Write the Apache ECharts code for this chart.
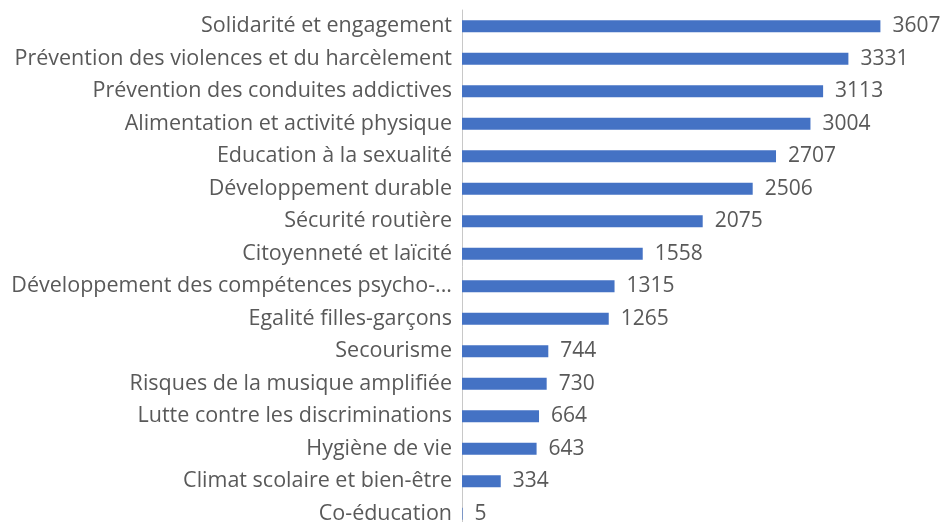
<!DOCTYPE html>
<html>
<head>
<meta charset="utf-8">
<script src="https://cdn.jsdelivr.net/npm/echarts@6/dist/echarts.min.js"></script>
<style>
    html, body { margin: 0; padding: 0; background: #fff; }
    #chart { width: 945px; height: 522px; }
</style>
</head>
<body>
<div id="chart"></div>
<script>
    // catégories, de bas en haut
    const categories = [
        'Co-éducation',
        'Climat scolaire et bien-être',
        'Hygiène de vie',
        'Lutte contre les discriminations',
        'Risques de la musique amplifiée',
        'Secourisme',
        'Egalité filles-garçons',
        'Développement des compétences psycho-...',
        'Citoyenneté et laïcité',
        'Sécurité routière',
        'Développement durable',
        'Education à la sexualité',
        'Alimentation et activité physique',
        'Prévention des conduites addictives',
        'Prévention des violences et du harcèlement',
        'Solidarité et engagement'
    ];
    const values = [5, 334, 643, 664, 730, 744, 1265, 1315, 1558, 2075, 2506, 2707, 3004, 3113, 3331, 3607];

    const chart = echarts.init(document.getElementById('chart'));
    const font = 'Open Sans, Liberation Sans, sans-serif';
    chart.setOption({
        animation: false,
        grid: {
            left: 462,
            top: 10,
            width: 464,
            height: 520,
            containLabel: false,
            outerBoundsMode: 'none'
        },
        xAxis: {
            type: 'value',
            min: 0,
            max: 4000,
            show: false
        },
        yAxis: {
            type: 'category',
            data: categories,
            axisTick: { show: false },
            axisLine: {
                lineStyle: { color: '#c8c8c8', width: 1 }
            },
            axisLabel: {
                margin: 10,
                padding: [4, 0, 0, 0],
                color: '#595959',
                fontSize: 21.5,
                fontFamily: font
            }
        },
        series: [
            {
                type: 'bar',
                data: values,
                barWidth: 12,
                itemStyle: { color: '#4472C4' },
                label: {
                    show: true,
                    position: 'right',
                    distance: 12,
                    padding: [5, 0, 0, 0],
                    color: '#595959',
                    fontSize: 21,
                    fontFamily: font
                }
            }
        ]
    });
</script>
</body>
</html>
